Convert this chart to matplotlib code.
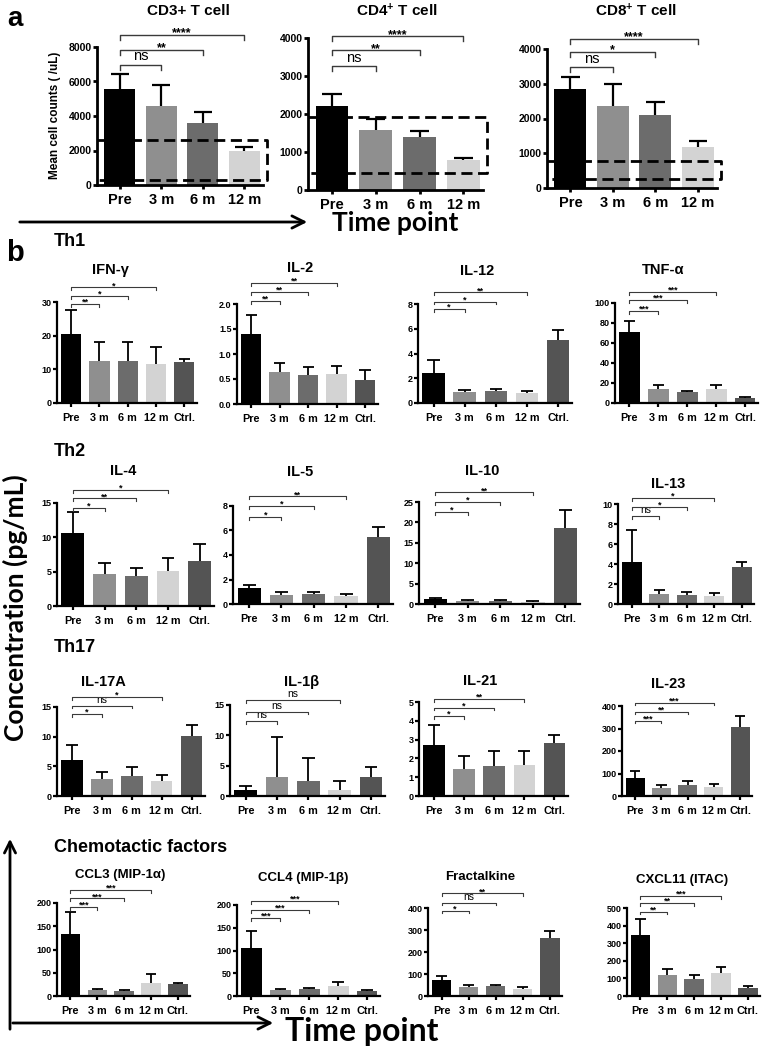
import numpy as np
import matplotlib
matplotlib.use("Agg")
import matplotlib.pyplot as plt
from matplotlib.ticker import FormatStrFormatter

plt.rcParams["font.family"] = ["Liberation Sans", "DejaVu Sans"]
plt.rcParams["font.weight"] = "bold"
plt.rcParams["mathtext.fontset"] = "custom"
plt.rcParams["mathtext.rm"] = "Liberation Sans:bold"
plt.rcParams["mathtext.default"] = "rm"

FIG_W, FIG_H = 762, 1050

# ---------------- panel a: T cell counts ----------------
groups_a = ["Pre", "3 m", "6 m", "12 m"]

cd3_mean = [5550, 4570, 3600, 2000]
cd3_err = [900, 1230, 650, 200]
cd3_sig = ["ns", "**", "****"]
cd3_sig_y = [6960, 7830, 8700]
cd3_ref = [300, 2600]

cd4_mean = [2200, 1580, 1390, 800]
cd4_err = [320, 300, 170, 50]
cd4_sig = ["ns", "**", "****"]
cd4_sig_y = [3260, 3680, 4050]
cd4_ref = [450, 1930]

cd8_mean = [2840, 2360, 2090, 1170]
cd8_err = [360, 620, 390, 170]
cd8_sig = ["ns", "*", "****"]
cd8_sig_y = [3480, 3910, 4290]
cd8_ref = [250, 780]

# ---------------- panel b: cytokines (pg/mL) ----------------
groups_b = ["Pre", "3 m", "6 m", "12 m", "Ctrl."]

ifng_mean = [20.5, 12.6, 12.4, 11.5, 12.3]
ifng_err = [7.0, 5.4, 5.6, 5.0, 0.9]
ifng_sig = ["**", "*", "*"]
ifng_sig_y = [29.4, 31.8, 34.4]

il2_mean = [1.41, 0.64, 0.59, 0.60, 0.49]
il2_err = [0.37, 0.18, 0.16, 0.16, 0.20]
il2_sig = ["**", "**", "**"]
il2_sig_y = [2.07, 2.25, 2.42]

il12_mean = [2.45, 0.85, 0.97, 0.78, 5.1]
il12_err = [1.05, 0.20, 0.18, 0.19, 0.8]
il12_sig = ["*", "*", "**"]
il12_sig_y = [7.6, 8.2, 8.95]

tnfa_mean = [71, 14, 11, 14.5, 5]
tnfa_err = [11, 4.5, 1.5, 3.5, 0.8]
tnfa_sig = ["***", "***", "***"]
tnfa_sig_y = [92, 103, 111]

il4_mean = [10.6, 4.7, 4.4, 5.1, 6.5]
il4_err = [3.1, 1.5, 1.2, 1.9, 2.5]
il4_sig = ["*", "**", "*"]
il4_sig_y = [14.3, 15.7, 16.9]

il5_mean = [1.3, 0.75, 0.78, 0.65, 5.5]
il5_err = [0.25, 0.2, 0.17, 0.2, 0.8]
il5_sig = ["*", "*", "**"]
il5_sig_y = [7.1, 8.0, 8.8]

il10_mean = [1.3, 0.7, 0.75, 0.6, 18.7]
il10_err = [0.2, 0.2, 0.15, 0.25, 4.3]
il10_sig = ["*", "*", "**"]
il10_sig_y = [22.6, 25.1, 27.4]

il13_mean = [4.25, 1.0, 0.9, 0.8, 3.75]
il13_err = [3.15, 0.4, 0.3, 0.3, 0.5]
il13_sig = ["ns", "*", "*"]
il13_sig_y = [8.8, 9.7, 10.6]

il17a_mean = [6.1, 2.9, 3.4, 2.6, 10.1]
il17a_err = [2.5, 1.2, 1.5, 0.9, 1.8]
il17a_sig = ["*", "ns", "*"]
il17a_sig_y = [13.8, 15.2, 16.7]

il1b_mean = [1.0, 3.2, 2.4, 1.0, 3.1]
il1b_err = [0.7, 6.6, 3.8, 1.5, 1.6]
il1b_sig = ["ns", "ns", "ns"]
il1b_sig_y = [12.4, 13.9, 15.8]

il21_mean = [2.7, 1.45, 1.62, 1.65, 2.8]
il21_err = [1.1, 0.7, 0.76, 0.73, 0.42]
il21_sig = ["*", "*", "**"]
il21_sig_y = [4.27, 4.7, 5.16]

il23_mean = [82, 36, 47, 40, 307]
il23_err = [31, 14, 18, 15, 50]
il23_sig = ["***", "**", "***"]
il23_sig_y = [335, 375, 415]

ccl3_mean = [133, 12, 10, 29, 25]
ccl3_err = [47, 3, 2, 19, 2]
ccl3_sig = ["***", "***", "***"]
ccl3_sig_y = [192, 210, 228]

ccl4_mean = [106, 13, 15, 22, 12]
ccl4_err = [37, 2, 3, 8, 1]
ccl4_sig = ["***", "***", "***"]
ccl4_sig_y = [171, 189, 209]

fkn_mean = [72, 40, 44, 32, 262]
fkn_err = [20, 10, 8, 10, 35]
fkn_sig = ["*", "ns", "**"]
fkn_sig_y = [388, 424, 467]

cxcl11_mean = [345, 122, 98, 128, 47]
cxcl11_err = [90, 33, 22, 37, 10]
cxcl11_sig = ["**", "**", "***"]
cxcl11_sig_y = [479, 527, 568]

bar_colors = ["#000000", "#8f8f8f", "#6c6c6c", "#d3d3d3", "#545454"]


def px_axes(fig, left, right, top, bottom):
    return fig.add_axes([left / FIG_W, 1 - bottom / FIG_H,
                         (right - left) / FIG_W, (bottom - top) / FIG_H])


def fig_text(fig, x, y, s, **kw):
    return fig.text(x / FIG_W, 1 - y / FIG_H, s, **kw)


def style_axes(ax, groups, ymax, ystep, fmt, xlim, lw, yfs, xfs, xpad):
    ax.spines["top"].set_visible(False)
    ax.spines["right"].set_visible(False)
    ax.spines["left"].set_linewidth(lw)
    ax.spines["bottom"].set_linewidth(lw)
    ax.set_xlim(*xlim)
    ax.set_ylim(0, ymax)
    ax.set_yticks(np.arange(0, ymax + ystep / 2, ystep))
    ax.yaxis.set_major_formatter(FormatStrFormatter(fmt))
    ax.set_xticks(range(len(groups)))
    ax.set_xticklabels(groups)
    ax.tick_params(axis="y", length=3, width=lw, labelsize=yfs, pad=1)
    ax.tick_params(axis="x", length=3, width=lw, labelsize=xfs, pad=xpad)
    ax.patch.set_visible(False)


def draw_bars(ax, mean, err, width, cap, lw):
    x = np.arange(len(mean))
    mean = np.asarray(mean, float)
    top = mean + np.asarray(err, float)
    ax.bar(x, mean, width=width, color=bar_colors[:len(mean)], zorder=2)
    ax.vlines(x, mean, top, color="black", lw=lw, zorder=3)
    ax.hlines(top, x - cap, x + cap, color="black", lw=lw, zorder=3)


def draw_brackets(ax, sig, sig_y, drop, lw, star_fs, ns_fs, color="#3a3a3a"):
    for i, (lab, y) in enumerate(zip(sig, sig_y)):
        x0, x1 = 0, i + 1
        ax.plot([x0, x0, x1, x1], [y - drop, y, y, y - drop], color=color,
                lw=lw, clip_on=False, zorder=5)
        xm = (x0 + x1) / 2
        if lab == "ns":
            ax.text(xm, y + drop * 0.3, lab, ha="center", va="bottom",
                    fontsize=ns_fs, fontweight="normal", clip_on=False)
        else:
            ax.text(xm, y - drop * 0.3, lab, ha="center", va="baseline",
                    fontsize=star_fs, fontweight="bold", clip_on=False)


fig = plt.figure(figsize=(FIG_W / 100, FIG_H / 100), dpi=100)

# ---------------- panel a ----------------
a_panels = [
    ("CD3+ T cell", cd3_mean, cd3_err, cd3_sig, cd3_sig_y, cd3_ref, 8000, 2000),
    ("CD4$^{+}$ T cell", cd4_mean, cd4_err, cd4_sig, cd4_sig_y, cd4_ref, 4000, 1000),
    ("CD8$^{+}$ T cell", cd8_mean, cd8_err, cd8_sig, cd8_sig_y, cd8_ref, 4000, 1000),
]
a_rects = [(97, 263, 47, 185), (308, 483, 38, 190), (547, 717, 49, 188)]
a_title_xy = [(188, 11), (397, 11), (636, 11)]

for (title, mean, err, sig, sig_y, ref, ymax, ystep), rect, txy in zip(a_panels, a_rects, a_title_xy):
    ax = px_axes(fig, *rect)
    xlim = (-0.55, 3.45)
    draw_bars(ax, mean, err, 0.75, 0.22, 1.6)
    style_axes(ax, groups_a, ymax, ystep, "%d", xlim, 2.0, 7.5, 10.5, 3)
    draw_brackets(ax, sig, sig_y, ymax * 0.035, 1.0, 9, 10.5)
    xr = 3.55
    ax.plot([xlim[0], xr, xr, xlim[0]], [ref[1], ref[1], ref[0], ref[0]],
            color="black", lw=2.0, dashes=(4, 2), clip_on=False, zorder=4)
    fig_text(fig, txy[0], txy[1], title, ha="center", va="center", fontsize=11)

fig_text(fig, 55, 115, "Mean cell counts ( /uL)", rotation=90, ha="center",
         va="center", fontsize=8.5)
fig_text(fig, 15, 19, "a", ha="center", va="center", fontsize=20)

# arrow + "Time point" under panel a
fig.add_artist(matplotlib.patches.FancyArrowPatch(
    (17 / FIG_W, 1 - 222 / FIG_H), (310 / FIG_W, 1 - 222 / FIG_H),
    transform=fig.transFigure, arrowstyle="->", mutation_scale=22, lw=2,
    color="black"))
fig_text(fig, 395, 223, "Time point", ha="center", va="center", fontsize=19,
         family=["Lato", "DejaVu Sans"])

# ---------------- panel b ----------------
b_panels = [
    ("IFN-γ", ifng_mean, ifng_err, ifng_sig, ifng_sig_y, 30, 10, "%d"),
    ("IL-2", il2_mean, il2_err, il2_sig, il2_sig_y, 2.0, 0.5, "%.1f"),
    ("IL-12", il12_mean, il12_err, il12_sig, il12_sig_y, 8, 2, "%d"),
    ("TNF-α", tnfa_mean, tnfa_err, tnfa_sig, tnfa_sig_y, 100, 20, "%d"),
    ("IL-4", il4_mean, il4_err, il4_sig, il4_sig_y, 15, 5, "%d"),
    ("IL-5", il5_mean, il5_err, il5_sig, il5_sig_y, 8, 2, "%d"),
    ("IL-10", il10_mean, il10_err, il10_sig, il10_sig_y, 25, 5, "%d"),
    ("IL-13", il13_mean, il13_err, il13_sig, il13_sig_y, 10, 2, "%d"),
    ("IL-17A", il17a_mean, il17a_err, il17a_sig, il17a_sig_y, 15, 5, "%d"),
    ("IL-1β", il1b_mean, il1b_err, il1b_sig, il1b_sig_y, 15, 5, "%d"),
    ("IL-21", il21_mean, il21_err, il21_sig, il21_sig_y, 5, 1, "%d"),
    ("IL-23", il23_mean, il23_err, il23_sig, il23_sig_y, 400, 100, "%d"),
    ("CCL3 (MIP-1α)", ccl3_mean, ccl3_err, ccl3_sig, ccl3_sig_y, 200, 50, "%d"),
    ("CCL4 (MIP-1β)", ccl4_mean, ccl4_err, ccl4_sig, ccl4_sig_y, 200, 50, "%d"),
    ("Fractalkine", fkn_mean, fkn_err, fkn_sig, fkn_sig_y, 400, 100, "%d"),
    ("CXCL11 (ITAC)", cxcl11_mean, cxcl11_err, cxcl11_sig, cxcl11_sig_y, 500, 100, "%d"),
]
b_rects = [
    (57, 197, 302, 403), (237, 378, 304, 404), (418, 572, 304, 403), (615, 758, 303, 403),
    (57, 214, 503, 606), (233, 393, 506, 604), (419, 580, 502, 604), (618, 754, 504, 604),
    (57, 205, 707, 796), (230, 385, 705, 796), (419, 568, 702, 796), (622, 752, 706, 796),
    (57, 190, 903, 996), (237, 380, 905, 996), (428, 562, 908, 996), (627, 760, 908, 996),
]
b_title_xy = [
    (110, 270), (300, 268), (477, 271), (663, 270),
    (123, 471), (300, 472), (482, 471), (668, 484),
    (103, 682), (302, 682), (480, 681), (668, 684),
    (120, 875), (303, 878), (480, 877), (682, 880),
]
b_title_fs = [10.5] * 12 + [9.5] * 4

for (title, mean, err, sig, sig_y, ymax, ystep, fmt), rect, txy, tfs in zip(
        b_panels, b_rects, b_title_xy, b_title_fs):
    ax = px_axes(fig, *rect)
    draw_bars(ax, mean, err, 0.72, 0.2, 1.3)
    style_axes(ax, groups_b, ymax, ystep, fmt, (-0.5, 4.45), 1.6, 6.5, 7.8, 4)
    draw_brackets(ax, sig, sig_y, ymax * 0.03, 0.8, 6.5, 7.5)
    fig_text(fig, txy[0], txy[1], title, ha="center", va="center", fontsize=tfs)

# section headers
fig_text(fig, 15, 253, "b", ha="center", va="center", fontsize=21)
for label, y in [("Th1", 242), ("Th2", 452), ("Th17", 647), ("Chemotactic factors", 847)]:
    fig_text(fig, 54, y, label, ha="left", va="center", fontsize=13)

fig_text(fig, 15, 608, "Concentration (pg/mL)", rotation=90, ha="center",
         va="center", fontsize=19, family=["Lato", "DejaVu Sans"])

# axis arrows at the bottom left
fig.add_artist(matplotlib.patches.FancyArrowPatch(
    (10 / FIG_W, 1 - 1032 / FIG_H), (10 / FIG_W, 1 - 836 / FIG_H),
    transform=fig.transFigure, arrowstyle="->", mutation_scale=20, lw=2,
    color="black"))
fig.add_artist(matplotlib.patches.FancyArrowPatch(
    (10 / FIG_W, 1 - 1023 / FIG_H), (276 / FIG_W, 1 - 1023 / FIG_H),
    transform=fig.transFigure, arrowstyle="->", mutation_scale=22, lw=2,
    color="black"))
fig_text(fig, 362, 1032, "Time point", ha="center", va="center", fontsize=23,
         family=["Lato", "DejaVu Sans"])

fig.savefig("out.png", dpi=100)
